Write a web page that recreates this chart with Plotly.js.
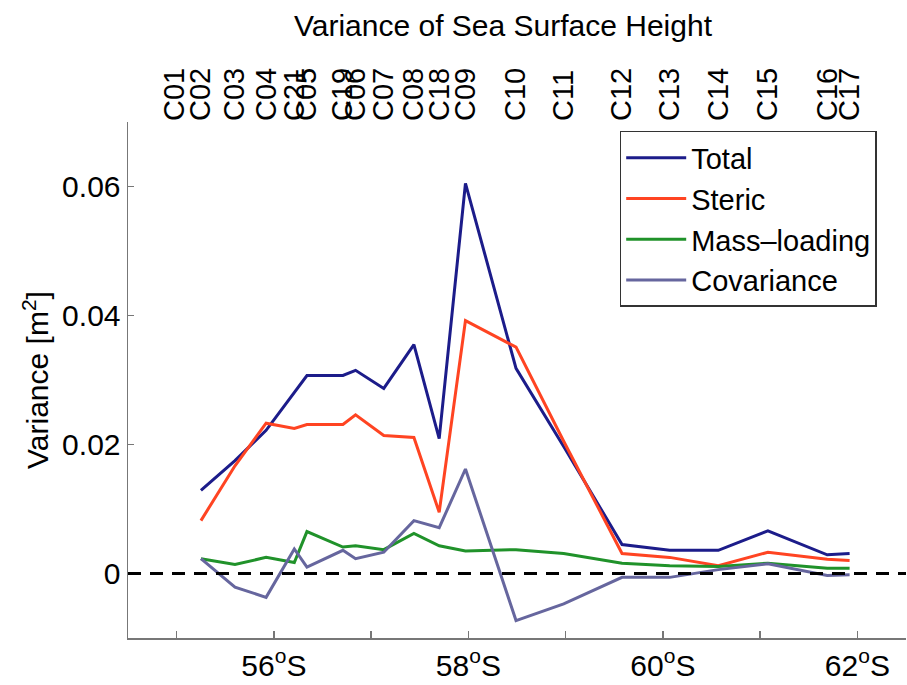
<!DOCTYPE html>
<html>
<head>
<meta charset="utf-8">
<script src="https://cdn.plot.ly/plotly-3.0.1.min.js"></script>
<style>html,body{margin:0;padding:0;background:#fff;}#chart{width:907px;height:685px;}</style>
</head>
<body>
<div id="chart"></div>
<script>
// Station names and latitudes (top axis)
const stationNames = ['C01','C02','C03','C04','C21','C05','C19','C06','C07','C08','C18','C09','C10','C11','C12','C13','C14','C15','C16','C17'];
const stationLats  = [54.98,55.25,55.60,55.92,56.21,56.34,56.71,56.84,57.13,57.44,57.70,57.97,58.49,58.98,59.58,60.07,60.57,61.08,61.69,61.92];

// Latitudes of data points (C02 ... C17)
const dataLats = [55.25,55.60,55.92,56.21,56.34,56.71,56.84,57.13,57.44,57.70,57.97,58.49,58.98,59.58,60.07,60.57,61.08,61.69,61.92];

const total      = [0.0129,0.0175,0.0222,0.0282,0.0307,0.0307,0.0315,0.0287,0.0355,0.0209,0.0605,0.0318,0.0197,0.0045,0.0036,0.0036,0.0066,0.0029,0.0031];
const steric     = [0.0082,0.0167,0.0233,0.0225,0.0231,0.0231,0.0246,0.0214,0.0211,0.0095,0.0392,0.0351,0.0205,0.0031,0.0025,0.0012,0.0033,0.0022,0.0020];
const massLoading= [0.0023,0.0014,0.0025,0.0017,0.0065,0.0041,0.0043,0.0037,0.0062,0.0043,0.0035,0.0037,0.0031,0.0016,0.0012,0.0011,0.0016,0.0008,0.0008];
const covariance = [0.0023,-0.0021,-0.0037,0.0038,0.0010,0.0036,0.0023,0.0033,0.0082,0.0071,0.0162,-0.0073,-0.0047,-0.0006,-0.0006,0.0006,0.0015,-0.0003,-0.0002];

const seriesNames = ['Total','Steric','Mass\u2013loading','Covariance'];

// Bottom axis ticks
const xTickVals = [55,56,57,58,59,60,61,62];
const xTickText = ['','56<sup>o</sup>S','','58<sup>o</sup>S','','60<sup>o</sup>S','','62<sup>o</sup>S'];
const yTickVals = [0,0.02,0.04,0.06];
const yTickText = ['0','0.02','0.04','0.06'];

const FONT = 'Liberation Sans, Arial, Helvetica, sans-serif';
const FS = 30;
const colors = ['#1c1c8a','#ff4422','#20922a','#66669e'];
const ys = [total, steric, massLoading, covariance];

const traces = ys.map((y,i)=>({
  x: dataLats, y: y, name: seriesNames[i], type:'scatter', mode:'lines',
  line:{color:colors[i], width:3}, xaxis:'x', yaxis:'y'
}));
// invisible trace to activate top axis
traces.push({x: stationLats, y: stationLats.map(()=>null), xaxis:'x2', yaxis:'y', showlegend:false, hoverinfo:'skip', mode:'lines'});

const layout = {
  width: 907, height: 685,
  margin:{l:128, r:1, t:122, b:47},
  paper_bgcolor:'#fff', plot_bgcolor:'#fff',
  font:{family:FONT, size:FS, color:'#000'},
  showlegend:true,
  title:{text:'Variance of Sea Surface Height', font:{family:FONT,size:FS,color:'#000'},
         xref:'paper', x:0.482, xanchor:'center', yref:'container', y:0.963, yanchor:'middle'},
  xaxis:{range:[54.5,62.5], tickvals:xTickVals, ticktext:xTickText, ticks:'inside', ticklen:7, tickwidth:1.5,
         tickcolor:'#777', showline:true, linecolor:'#777', linewidth:1.5, showgrid:false, zeroline:false,
         tickfont:{family:FONT,size:FS,color:'#000'}, fixedrange:true},
  xaxis2:{range:[54.5,62.5], overlaying:'x', side:'top', tickvals:stationLats, ticktext:stationNames,
          tickangle:-90, ticks:'', showline:false, showgrid:false, zeroline:false,
          tickfont:{family:FONT,size:29,color:'#000'}},
  yaxis:{range:[-0.01,0.07], tickvals:yTickVals, ticktext:yTickText, ticks:'inside', ticklen:6, tickwidth:1.5,
         tickcolor:'#777', showline:true, linecolor:'#777', linewidth:1.5, showgrid:false, zeroline:false,
         tickfont:{family:FONT,size:FS,color:'#000'},
         title:{text:'Variance [m<sup>2</sup>]', font:{family:FONT,size:FS,color:'#000'}, standoff:4}},
  legend:{x:0.632, y:0.9826, xanchor:'left', yanchor:'top', bgcolor:'#fff', bordercolor:'#333', borderwidth:1.5,
          font:{family:FONT,size:29,color:'#000'}, tracegroupgap:0, itemwidth:60},
  shapes:[{type:'line', xref:'paper', x0:0, x1:1, yref:'y', y0:0, y1:0,
           line:{color:'#000', width:3, dash:'13px,9px'}}]
};

Plotly.newPlot('chart', traces, layout, {displayModeBar:false, staticPlot:true});
</script>
</body>
</html>
